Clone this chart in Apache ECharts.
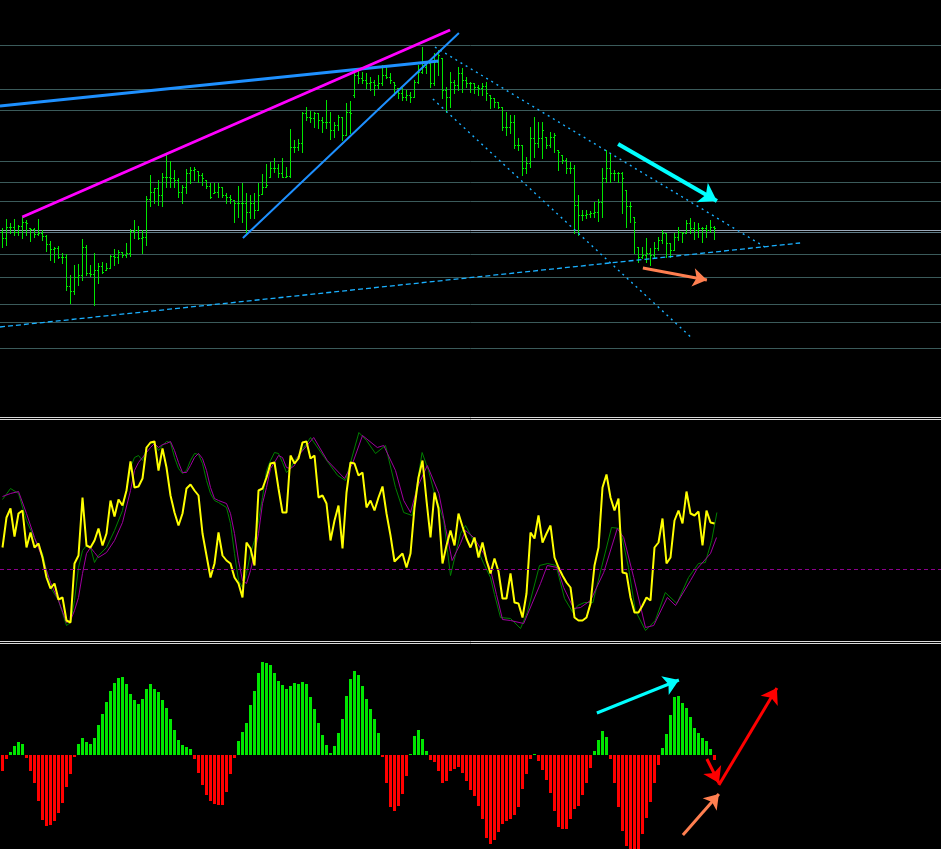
<!DOCTYPE html>
<html><head><meta charset="utf-8">
<script src="https://cdn.jsdelivr.net/npm/echarts@6/dist/echarts.min.js"></script>
<style>html,body{margin:0;padding:0;background:#000;}#c{width:941px;height:849px;}</style>
</head><body><div id="c"></div>
<script>
// ---------------- DATA ----------------
const opens = [
1.0585,1.0579,1.0590,1.0590,1.0585,1.0591,1.0595,1.0589,1.0588,1.0583,
1.0584,1.0581,1.0573,1.0568,1.0569,1.0560,1.0560,1.0531,1.0526,1.0540,
1.0542,1.0570,1.0544,1.0543,1.0547,1.0551,1.0547,1.0549,1.0561,1.0560,
1.0565,1.0562,1.0564,1.0586,1.0587,1.0579,1.0580,1.0618,1.0625,1.0629,
1.0622,1.0640,1.0640,1.0639,1.0637,1.0625,1.0630,1.0644,1.0647,1.0646,
1.0642,1.0637,1.0631,1.0624,1.0625,1.0630,1.0622,1.0620,1.0617,1.0614,
1.0614,1.0614,1.0605,1.0614,1.0607,1.0623,1.0630,1.0640,1.0649,1.0649,
1.0644,1.0640,1.0641,1.0670,1.0670,1.0674,1.0704,1.0700,1.0699,1.0704,
1.0697,1.0695,1.0695,1.0687,1.0692,1.0700,1.0682,1.0705,1.0722,1.0742,
1.0739,1.0737,1.0734,1.0735,1.0732,1.0734,1.0742,1.0740,1.0735,1.0729,
1.0724,1.0720,1.0722,1.0720,1.0735,1.0745,1.0750,1.0754,1.0734,1.0755,
1.0759,1.0727,1.0720,1.0735,1.0732,1.0744,1.0737,1.0734,1.0734,1.0730,
1.0729,1.0731,1.0722,1.0719,1.0715,1.0710,1.0690,1.0690,1.0695,1.0672,
1.0672,1.0649,1.0654,1.0679,1.0674,1.0679,1.0680,1.0672,1.0680,1.0667,
1.0662,1.0657,1.0649,1.0649,1.0612,1.0602,1.0602,1.0603,1.0604,1.0605,
1.0615,1.0639,1.0649,1.0644,1.0644,1.0644,1.0627,1.0611,1.0600,1.0570,
1.0560,1.0562,1.0564,1.0562,1.0569,1.0577,1.0584,1.0574,1.0567,1.0580,
1.0585,1.0584,1.0594,1.0589,1.0587,1.0589,1.0589,1.0587,1.0590];
const highs = [
1.0589,1.0598,1.0594,1.0598,1.0592,1.0600,1.0597,1.0589,1.0589,1.0598,
1.0587,1.0582,1.0576,1.0570,1.0571,1.0564,1.0563,1.0542,1.0552,1.0553,
1.0578,1.0572,1.0552,1.0564,1.0554,1.0555,1.0554,1.0562,1.0568,1.0567,
1.0565,1.0574,1.0588,1.0597,1.0591,1.0587,1.0621,1.0642,1.0629,1.0637,
1.0644,1.0662,1.0656,1.0647,1.0639,1.0632,1.0648,1.0650,1.0650,1.0646,
1.0644,1.0637,1.0634,1.0634,1.0634,1.0630,1.0624,1.0622,1.0617,1.0631,
1.0634,1.0624,1.0622,1.0624,1.0634,1.0643,1.0653,1.0655,1.0659,1.0653,
1.0659,1.0650,1.0688,1.0677,1.0678,1.0705,1.0710,1.0706,1.0705,1.0704,
1.0700,1.0717,1.0705,1.0695,1.0702,1.0700,1.0714,1.0716,1.0747,1.0748,
1.0745,1.0744,1.0740,1.0737,1.0742,1.0752,1.0750,1.0744,1.0735,1.0729,
1.0729,1.0727,1.0725,1.0737,1.0752,1.0770,1.0755,1.0754,1.0764,1.0767,
1.0759,1.0730,1.0745,1.0737,1.0750,1.0749,1.0740,1.0735,1.0734,1.0732,
1.0734,1.0735,1.0722,1.0719,1.0715,1.0710,1.0705,1.0702,1.0702,1.0679,
1.0672,1.0660,1.0690,1.0700,1.0695,1.0695,1.0680,1.0685,1.0684,1.0667,
1.0662,1.0659,1.0655,1.0652,1.0622,1.0607,1.0607,1.0606,1.0615,1.0618,
1.0649,1.0667,1.0664,1.0647,1.0645,1.0645,1.0627,1.0615,1.0600,1.0570,
1.0570,1.0579,1.0569,1.0575,1.0580,1.0587,1.0584,1.0574,1.0584,1.0590,
1.0585,1.0597,1.0599,1.0595,1.0594,1.0590,1.0592,1.0597,1.0591];
const lows = [
1.0570,1.0572,1.0584,1.0582,1.0582,1.0579,1.0582,1.0576,1.0580,1.0582,
1.0577,1.0566,1.0557,1.0555,1.0559,1.0554,1.0527,1.0514,1.0523,1.0532,
1.0537,1.0542,1.0541,1.0512,1.0534,1.0544,1.0547,1.0549,1.0552,1.0554,
1.0560,1.0560,1.0561,1.0579,1.0578,1.0564,1.0572,1.0611,1.0614,1.0612,
1.0611,1.0630,1.0630,1.0630,1.0620,1.0614,1.0624,1.0634,1.0637,1.0635,
1.0632,1.0629,1.0619,1.0624,1.0620,1.0620,1.0614,1.0614,1.0595,1.0600,
1.0595,1.0584,1.0599,1.0599,1.0607,1.0623,1.0630,1.0640,1.0645,1.0640,
1.0640,1.0640,1.0640,1.0665,1.0667,1.0665,1.0697,1.0695,1.0690,1.0689,
1.0685,1.0689,1.0678,1.0680,1.0687,1.0677,1.0682,1.0684,1.0720,1.0734,
1.0734,1.0729,1.0727,1.0722,1.0729,1.0732,1.0739,1.0734,1.0722,1.0719,
1.0717,1.0717,1.0715,1.0720,1.0734,1.0744,1.0744,1.0730,1.0732,1.0742,
1.0719,1.0705,1.0710,1.0724,1.0727,1.0725,1.0730,1.0725,1.0724,1.0722,
1.0722,1.0717,1.0709,1.0710,1.0709,1.0687,1.0682,1.0684,1.0669,1.0667,
1.0642,1.0644,1.0650,1.0660,1.0670,1.0659,1.0669,1.0670,1.0665,1.0647,
1.0654,1.0644,1.0644,1.0584,1.0582,1.0597,1.0599,1.0600,1.0600,1.0596,
1.0600,1.0635,1.0635,1.0637,1.0635,1.0604,1.0590,1.0595,1.0564,1.0555,
1.0559,1.0555,1.0552,1.0559,1.0567,1.0574,1.0560,1.0560,1.0567,1.0577,
1.0575,1.0584,1.0584,1.0578,1.0580,1.0575,1.0580,1.0585,1.0578];
const closes = [
1.0579,1.0590,1.0590,1.0585,1.0591,1.0595,1.0594,1.0588,1.0583,1.0584,
1.0581,1.0573,1.0568,1.0569,1.0560,1.0560,1.0531,1.0526,1.0540,1.0542,
1.0570,1.0544,1.0543,1.0547,1.0551,1.0545,1.0549,1.0561,1.0560,1.0565,
1.0562,1.0564,1.0586,1.0587,1.0579,1.0580,1.0618,1.0625,1.0629,1.0622,
1.0640,1.0640,1.0639,1.0637,1.0625,1.0630,1.0644,1.0647,1.0648,1.0642,
1.0639,1.0631,1.0620,1.0625,1.0630,1.0622,1.0620,1.0618,1.0614,1.0614,
1.0614,1.0605,1.0614,1.0607,1.0622,1.0630,1.0632,1.0649,1.0649,1.0644,
1.0640,1.0641,1.0670,1.0670,1.0674,1.0704,1.0700,1.0699,1.0704,1.0697,
1.0695,1.0695,1.0687,1.0692,1.0700,1.0682,1.0705,1.0704,1.0742,1.0739,
1.0737,1.0734,1.0735,1.0732,1.0734,1.0742,1.0740,1.0737,1.0732,1.0724,
1.0720,1.0722,1.0720,1.0735,1.0745,1.0750,1.0754,1.0734,1.0755,1.0762,
1.0727,1.0720,1.0735,1.0732,1.0744,1.0737,1.0734,1.0734,1.0730,1.0729,
1.0731,1.0724,1.0719,1.0715,1.0710,1.0690,1.0690,1.0695,1.0672,1.0672,
1.0649,1.0654,1.0679,1.0674,1.0679,1.0687,1.0672,1.0680,1.0682,1.0665,
1.0657,1.0649,1.0649,1.0612,1.0602,1.0602,1.0603,1.0604,1.0605,1.0615,
1.0639,1.0649,1.0644,1.0644,1.0644,1.0639,1.0611,1.0611,1.0595,1.0560,
1.0562,1.0564,1.0562,1.0569,1.0577,1.0584,1.0574,1.0567,1.0580,1.0585,
1.0584,1.0594,1.0589,1.0587,1.0589,1.0589,1.0587,1.0590,1.0589];

// horizontal price levels
const priceLevels = [1.07715,1.07275,1.07065,1.06555,1.06345,1.06155,1.05625,1.05395,1.05125,1.04945,1.04685];
const keyLevelUpper = 1.05865;
const keyLevelLower = 1.05845;

// oscillator main line (one value per bar)
const oscMain = [
22,52,61,33,56,59,22,37,22,26,
12,-8,-19,-14,-30,-28,-51,-53,6,14,
72,24,22,29,41,24,36,69,53,70,
64,79,108,82,83,91,122,127,128,99,
121,102,74,57,44,56,81,85,79,74,
36,14,-8,6,37,14,9,6,-8,-14,
-28,27,21,4,79,81,92,106,107,81,
57,57,114,106,111,127,128,111,114,72,
74,66,29,49,64,21,77,107,106,94,
97,62,69,59,72,83,56,34,8,12,
16,2,16,62,92,109,69,32,77,61,
6,24,39,24,56,43,31,22,32,12,
27,9,-4,11,-2,-29,-29,-4,-33,-34,
-48,-24,37,31,54,27,36,44,12,2,
-6,-13,-18,-48,-51,-51,-48,-34,4,22,
82,95,72,59,71,-3,-4,-28,-43,-43,
-36,-28,-31,22,27,51,6,12,49,59,
46,78,56,54,58,24,59,47,46];
// signal lines, read as [bar, value]
const greenSignal = [[0,70],[2,81],[4,76],[6,49],[8,31],[10,16],[12,-18],[14,-31],[16,-56],[17,-53],[18,-31],[19,2],[20,19],[21,24],[22,22],[23,7],[24,14],[26,22],[28,39],[30,59],[32,102],[33,112],[34,114],[35,109],[36,121],[37,127],[38,126],[39,119],[40,124],[41,128],[42,127],[43,112],[44,101],[45,96],[46,99],[47,109],[48,116],[49,115],[50,106],[51,89],[52,76],[53,69],[54,67],[56,62],[57,46],[58,16],[59,-11],[60,-18],[61,-4],[62,16],[63,29],[64,49],[65,72],[66,99],[67,109],[68,117],[69,116],[70,107],[71,97],[72,101],[73,109],[74,114],[77,132],[80.5,112],[83.8,94],[85.75,89],[89.1,137],[91,129],[93.25,116],[95.75,124],[98.25,82],[100.3,57],[102.4,54],[104.9,117],[106.5,99],[107.8,79],[110.3,49],[112,-6],[114.5,36],[115.75,44],[117.8,29],[120.3,6],[122,-8],[123,-25],[124.5,-48],[127,-49],[129.5,-59],[131.2,-43],[134.25,4],[136.3,6],[138.4,4],[140.5,-29],[142.6,-43],[143.8,-36],[145.5,-33],[147.6,-33],[149.75,2],[152.25,42],[154.4,41],[156.5,2],[158.2,-41],[160.75,-61],[163.2,-51],[165.7,-23],[168.6,-34],[171.5,-8],[174,6],[175.7,7],[177.3,29],[178.6,57]];
const purpleSignal = [[0,73],[2,76],[4,78],[6,56],[8,32],[10,11],[12,-13],[14,-31],[16,-53],[17,-51],[18,-41],[19,-28],[20,-4],[21,16],[22,22],[23,17],[24,12],[26,17],[28,29],[30,47],[32,79],[33,99],[34,107],[35,112],[36,117],[37,122],[38,126],[39,122],[40,125],[41,126],[42,128],[43,119],[44,107],[45,97],[46,97],[47,104],[48,112],[49,116],[50,111],[51,99],[52,82],[53,71],[54,69],[56,66],[57,56],[58,36],[59,9],[60,-11],[61,-14],[62,-1],[63,16],[64,36],[65,66],[66,82],[67,101],[68,107],[69,114],[70,112],[71,102],[72,101],[73,104],[74,114],[77.8,132],[81.2,109],[85.5,91],[87.5,106],[90,134],[93.7,122],[95.3,124],[98.25,99],[100.3,69],[102,57],[103.7,82],[106.2,104],[109.1,76],[110.75,42],[112.4,9],[114.5,26],[115.75,39],[117.8,32],[120.3,16],[122,0],[123.5,-25],[125,-50],[127,-51],[130.3,-54],[134.5,-14],[136.2,4],[138.7,2],[140.3,-18],[142.8,-39],[144.5,-38],[147,-31],[150.3,-3],[153.7,41],[155.3,32],[157.8,-8],[160.75,-58],[162.8,-56],[166.2,-28],[168.25,-36],[172,-11],[173.7,1],[177,16],[178.5,32]];

// histogram (one value per bar)
const histogram = [
-16,-4,3,9,13,11,-3,-16,-28,-46,
-65,-71,-70,-66,-58,-48,-32,-19,-2,11,
17,13,11,17,30,41,53,64,72,77,
78,71,61,55,51,56,66,71,66,63,
55,47,36,25,15,10,8,6,-4,-18,
-30,-40,-46,-49,-50,-50,-37,-19,-3,14,
23,32,50,64,82,93,92,90,82,74,
70,66,69,72,71,73,71,58,46,32,
20,10,2,9,22,36,59,76,84,80,
69,56,46,36,22,-2,-28,-52,-56,-51,
-39,-21,1,19,25,16,4,-5,-7,-16,
-28,-26,-16,-14,-12,-18,-26,-35,-41,-51,
-64,-83,-89,-85,-77,-69,-66,-64,-60,-52,
-34,-19,-4,1,-6,-15,-25,-38,-56,-72,
-74,-74,-64,-54,-51,-40,-28,-13,4,15,
24,18,-4,-28,-52,-76,-91,-96,-96,-96,
-79,-63,-47,-28,-10,7,21,40,58,59,
52,47,38,27,22,17,14,6,-5];

// trend lines [bar, price]
const magentaTrend   = [[4.95, 1.0600], [111.9, 1.0787]];
const blueTrendFlat  = [[-0.625, 1.0711], [109, 1.0756]];
const blueTrendSteep = [[60.1, 1.0579], [114.1, 1.0784]];
const channelUpper   = [[108.1, 1.0770], [190.6, 1.0570]];
const channelLower   = [[107.6, 1.0718], [172.6, 1.0478]];
const supportDashed  = [[-0.625, 1.0490], [199.4, 1.0574]];
// arrows
const arrowPriceDown = [[153.9, 1.0673], [178.6, 1.0616]];
const arrowPriceFlat = [[160.1, 1.0549], [176.1, 1.0537]];
const arrowHistUp    = [[148.6, 42], [169.1, 75]];
const arrowHistLow   = [[170.1, -80], [179.1, -39]];
const arrowRedDown   = [[176.1, -4], [179.1, -28]];
const arrowRedUp     = [[179.1, -30], [193.6, 67]];

// ---------------- CHART ----------------
const GREEN = '#00e600', RED = '#ff0000';
const XMIN = -0.625, XMAX = 234.625;
const chart = echarts.init(document.getElementById('c'));

function seg(gi, segs, color, width, type, z, arrowSize) {
  return {
    type: 'lines', coordinateSystem: 'cartesian2d', xAxisIndex: gi, yAxisIndex: gi,
    silent: true, z: z, animation: false, polyline: false,
    symbol: arrowSize ? ['none', 'arrow'] : ['none', 'none'],
    symbolSize: arrowSize ? [0, arrowSize] : 0,
    lineStyle: { color: color, width: width, type: type || 'solid', opacity: 1, curveness: 0 },
    data: segs.map(s => ({ coords: s }))
  };
}

const ohlc = highs.map((h, i) => [i, opens[i], h, lows[i], closes[i]]);

const option = {
  backgroundColor: '#000000',
  animation: false,
  grid: [
    { left: 0, right: 0, top: 0, height: 417, containLabel: false, outerBoundsMode: 'none' },
    { left: 0, right: 0, top: 420, height: 221, containLabel: false, outerBoundsMode: 'none' },
    { left: 0, right: 0, top: 644, height: 205, containLabel: false, outerBoundsMode: 'none' }
  ],
  xAxis: [0, 1, 2].map(g => ({ type: 'value', gridIndex: g, min: XMIN, max: XMAX, show: false })),
  yAxis: [
    { type: 'value', gridIndex: 0, min: 1.0400, max: 1.0817, show: false },
    { type: 'value', gridIndex: 1, min: -71.5, max: 149.5, show: false },
    { type: 'value', gridIndex: 2, min: -94, max: 111, show: false }
  ],
  graphic: [417.5, 419.5, 641.5, 643.5].map(y => ({
    type: 'line', silent: true, z: 100,
    shape: { x1: 0, y1: y, x2: 941, y2: y },
    style: { stroke: '#d8d8d8', lineWidth: 1 }
  })),
  series: [
    seg(0, priceLevels.map(p => [[XMIN, p], [XMAX, p]]), '#3b5b5b', 1, 'solid', 1),
    seg(0, [[[XMIN, keyLevelUpper], [XMAX, keyLevelUpper]]], '#9aa8b8', 1, 'solid', 1),
    seg(0, [[[XMIN, keyLevelLower], [XMAX, keyLevelLower]]], '#5f7a86', 1, 'solid', 1),
    {
      type: 'custom', xAxisIndex: 0, yAxisIndex: 0, z: 2, silent: true,
      data: ohlc,
      encode: { x: 0, y: [1, 2, 3, 4] },
      renderItem: function (params, api) {
        const i = api.value(0);
        const pH = api.coord([i, api.value(2)]);
        const pL = api.coord([i, api.value(3)]);
        const pO = api.coord([i, api.value(1)]);
        const pC = api.coord([i, api.value(4)]);
        const x = Math.round(pH[0] - 0.5);
        const yH = Math.round(pH[1]), yL = Math.round(pL[1]);
        const st = { fill: GREEN };
        return { type: 'group', children: [
          { type: 'rect', shape: { x: x, y: yH, width: 1, height: Math.max(1, yL - yH + 1) }, style: st },
          { type: 'rect', shape: { x: x - 1, y: Math.round(pO[1]), width: 1, height: 1 }, style: st },
          { type: 'rect', shape: { x: x + 1, y: Math.round(pC[1]), width: 1, height: 1 }, style: st }
        ]};
      }
    },
    seg(0, [supportDashed], '#1ab0ff', 1.3, [5, 3], 3),
    seg(0, [channelUpper, channelLower], '#1ab0ff', 1.4, [2, 4], 3),
    seg(0, [blueTrendFlat], '#1e90ff', 3, 'solid', 4),
    seg(0, [blueTrendSteep], '#1e90ff', 2, 'solid', 4),
    seg(0, [magentaTrend], '#ff00ff', 3, 'solid', 4),
    seg(0, [arrowPriceDown], '#00ffff', 4, 'solid', 5, 17),
    seg(0, [arrowPriceFlat], '#ff7f50', 3, 'solid', 5, 14),

    {
      type: 'line', xAxisIndex: 1, yAxisIndex: 1, data: greenSignal, showSymbol: false, symbol: 'none',
      lineStyle: { color: '#008000', width: 1 }, z: 2, silent: true
    },
    {
      type: 'line', xAxisIndex: 1, yAxisIndex: 1, data: purpleSignal, showSymbol: false, symbol: 'none',
      lineStyle: { color: '#a000a0', width: 1 }, z: 2, silent: true
    },
    {
      type: 'line', xAxisIndex: 1, yAxisIndex: 1, data: oscMain.map((v, i) => [i, v]),
      showSymbol: false, symbol: 'none', lineStyle: { color: '#ffff00', width: 2 }, z: 3, silent: true,
      markLine: {
        silent: true, symbol: ['none', 'none'], label: { show: false },
        lineStyle: { color: '#8b008b', width: 1, type: [4, 3] },
        data: [{ yAxis: 0 }]
      }
    },

    {
      type: 'bar', xAxisIndex: 2, yAxisIndex: 2, barWidth: 3, silent: true,
      data: histogram.map((v, i) => [i, v]),
      itemStyle: { color: p => (p.value[1] >= 0 ? GREEN : RED) }
    },
    seg(2, [arrowHistUp], '#00ffff', 3, 'solid', 5, 15),
    seg(2, [arrowHistLow], '#ff7f50', 3, 'solid', 5, 14),
    seg(2, [arrowRedDown, arrowRedUp], '#ff0000', 3, 'solid', 5, 15)
  ]
};
chart.setOption(option);
</script></body></html>
